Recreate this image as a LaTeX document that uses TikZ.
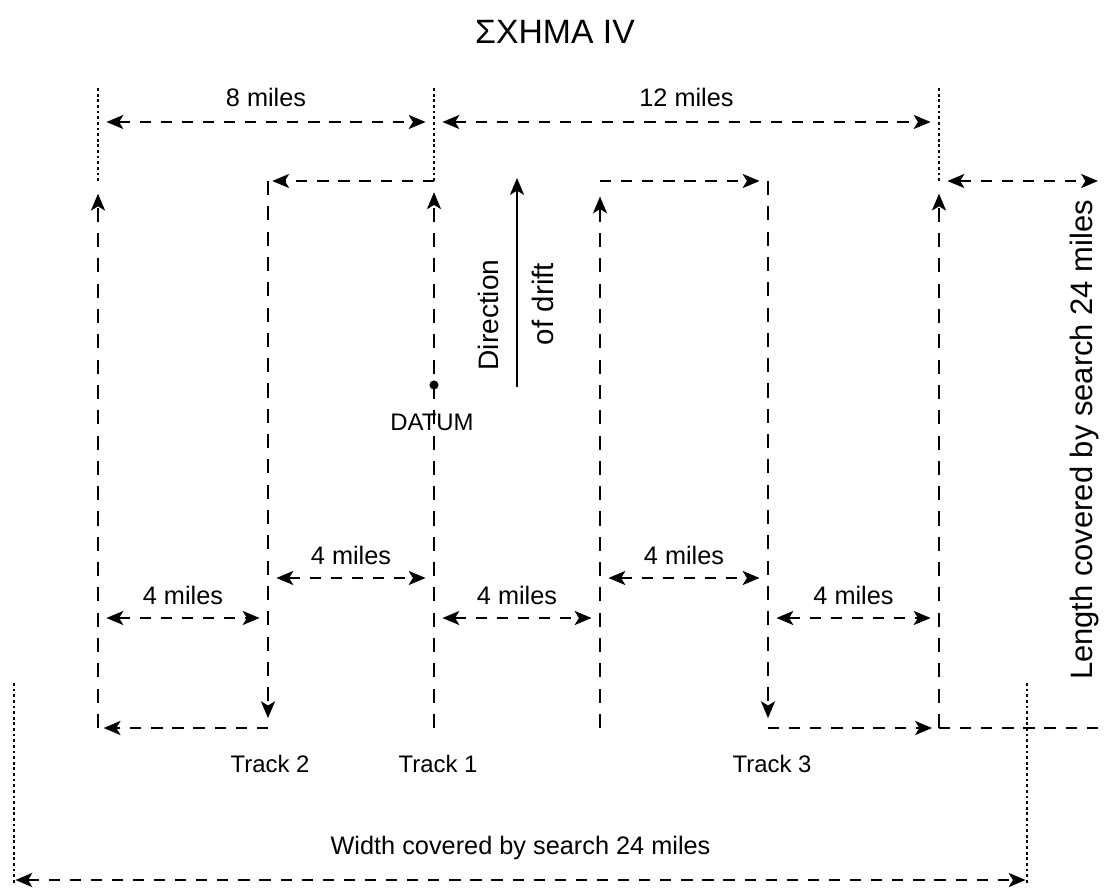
\documentclass[tikz,border=0pt]{standalone}
\usepackage{fontspec}
\setmainfont{Liberation Sans}
\usetikzlibrary{arrows.meta}

\begin{document}
\begin{tikzpicture}[x=0.025cm, y=-0.025cm, >={Stealth[length=12pt, width=10pt, inset=3pt]},
    leg/.style={line width=1.4pt, dash pattern=on 8pt off 7pt},
    vleg/.style={line width=1.4pt, dash pattern=on 10pt off 8pt},
    ext/.style={line width=0.9pt, dash pattern=on 2pt off 2pt},
    dim/.style={leg, <->, shorten <=6pt, shorten >=6pt},
    lbl/.style={font=\fontsize{18}{20}\selectfont, inner sep=0pt}]
    \useasboundingbox (0,0) rectangle (1110,891);

    % Title
    \node[font=\fontsize{24}{26}\selectfont] (title) at (555,32) {ΣΧΗΜΑ IV};

    % Corners of the pattern (t = top, b = bottom)
    \foreach \n/\x in {A/98, B/268, C/434, D/600, E/768, F/939, G/1098} {
      \coordinate (\n t) at (\x,181);
      \coordinate (\n b) at (\x,728);
    }

    % Track 2
    \draw[leg, ->, shorten >=3pt] (Ct) -- (Bt);
    \draw[vleg, ->, shorten >=7pt] (Bt) -- (Bb);
    \draw[leg, ->, shorten >=4pt] (Bb) -- (Ab);
    \draw[vleg, ->, shorten >=9pt] (Ab) -- (At);

    % Track 1
    \draw[vleg, ->, shorten >=8pt] (Cb) -- (Ct);

    % Track 3
    \draw[vleg, ->, shorten >=11pt] (Db) -- (Dt);
    \draw[leg, ->, shorten >=6pt] (Dt) -- (Et);
    \draw[vleg, ->, shorten >=7pt] (Et) -- (Eb);
    \draw[leg, ->, shorten >=5pt] (Eb) -- (Fb);
    \draw[vleg, ->, shorten >=9pt] (Fb) -- (Ft);

    % Length limits on the right
    \draw[leg, <->, shorten <=6pt] (Ft) -- (Gt);
    \draw[leg] (Fb) -- (Gb);
    \node[rotate=90, font=\fontsize{22}{24}\selectfont] (lenlbl) at (1084,440) {Length covered by search 24 miles};

    % Extension lines
    \foreach \n in {A, C, F}
      \draw[ext] (\n t) -- (\n t |- 0,88);

    % Track spacings
    \draw[dim] (At |- 0,122) -- node[lbl, above=10pt] {8 miles} (Ct |- 0,122);
    \draw[dim] (Ct |- 0,122) -- node[lbl, above=10pt] {12 miles} (Ft |- 0,122);
    \draw[dim] (Bt |- 0,578) -- node[lbl, above=9pt] {4 miles} (Ct |- 0,578);
    \draw[dim] (Dt |- 0,578) -- node[lbl, above=9pt] {4 miles} (Et |- 0,578);
    \draw[dim] (At |- 0,618) -- node[lbl, above=9pt] {4 miles} (Bt |- 0,618);
    \draw[dim] (Ct |- 0,618) -- node[lbl, above=9pt] {4 miles} (Dt |- 0,618);
    \draw[dim] (Et |- 0,618) -- node[lbl, above=9pt] {4 miles} (Ft |- 0,618);

    % Datum
    \node[circle, fill, inner sep=0pt, minimum size=6.5pt] (datum) at (434,385) {};
    \node[lbl, font=\fontsize{17}{19}\selectfont] (datumlbl) at (432,422) {DATUM};

    % Drift
    \coordinate (drift0) at (517,387);
    \coordinate (drift1) at (517,178);
    \draw[line width=1.4pt, ->] (drift0) -- (drift1);
    \node[lbl, rotate=90, font=\fontsize{20}{22}\selectfont] (dirlbl) at (488,315) {Direction};
    \node[lbl, rotate=90, font=\fontsize{21}{23}\selectfont] (driftlbl) at (543,304) {of drift};

    % Track names
    \node[lbl, font=\fontsize{17}{19}\selectfont] (trk2) at (270,764) {Track 2};
    \node[lbl, font=\fontsize{17}{19}\selectfont] (trk1) at (438,764) {Track 1};
    \node[lbl, font=\fontsize{17}{19}\selectfont] (trk3) at (772,764) {Track 3};

    % Width of the search
    \coordinate (wl) at (14,683);
    \coordinate (wr) at (1027,683);
    \draw[ext] (wl) -- (wl |- 0,884);
    \draw[ext] (wr) -- (wr |- 0,884);
    \draw[dim, shorten <=1pt, shorten >=1pt] (wl |- 0,880) -- node[lbl, above=14pt] {Width covered by search 24 miles} (wr |- 0,880);
  \end{tikzpicture}
\end{document}
